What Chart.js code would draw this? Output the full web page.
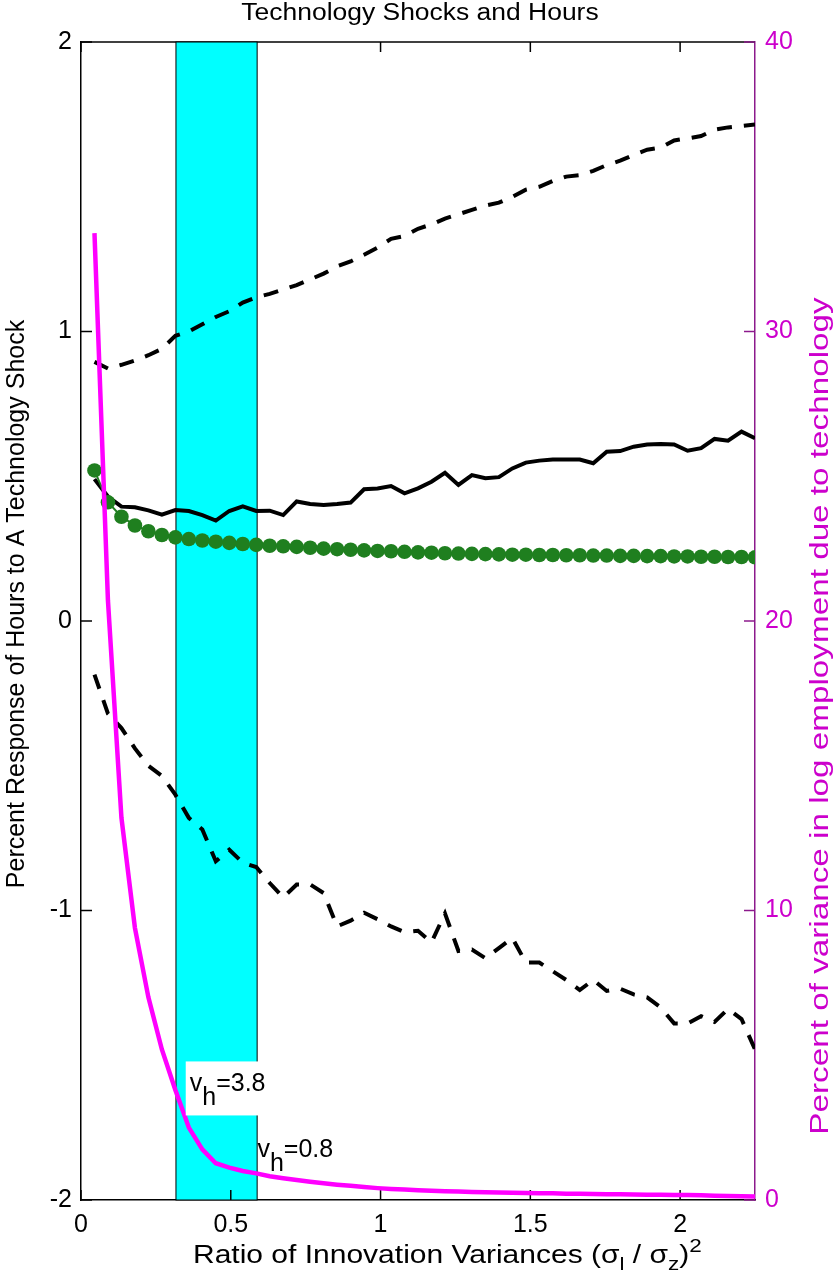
<!DOCTYPE html>
<html>
<head>
<meta charset="utf-8">
<title>Technology Shocks and Hours</title>
<script src="https://cdn.jsdelivr.net/npm/chart.js@4/dist/chart.umd.min.js"></script>
<style>
  html, body { margin: 0; padding: 0; background: #fff; }
  canvas { display: block; }
</style>
</head>
<body>
<canvas id="shocksChart" width="834" height="1280"></canvas>
<script>
// ratio of innovation variances (x positions of every series)
const ratio = [0.045, 0.09, 0.135, 0.18, 0.225, 0.27, 0.315, 0.36, 0.405, 0.45,
  0.495, 0.54, 0.585, 0.63, 0.675, 0.72, 0.765, 0.81, 0.855, 0.9,
  0.945, 0.99, 1.035, 1.08, 1.125, 1.17, 1.215, 1.26, 1.305, 1.35,
  1.395, 1.44, 1.485, 1.53, 1.575, 1.62, 1.665, 1.71, 1.755, 1.8,
  1.845, 1.89, 1.935, 1.98, 2.025, 2.07, 2.115, 2.16, 2.205, 2.25];

// percent response of hours (left axis)
const responseMedian = [0.49, 0.43, 0.395, 0.393, 0.382, 0.367, 0.383, 0.38, 0.366, 0.347,
  0.38, 0.396, 0.38, 0.381, 0.366, 0.413, 0.404, 0.401, 0.404, 0.409,
  0.455, 0.458, 0.466, 0.441, 0.458, 0.481, 0.512, 0.47, 0.504, 0.493,
  0.497, 0.527, 0.547, 0.554, 0.558, 0.558, 0.558, 0.545, 0.585, 0.587,
  0.602, 0.61, 0.611, 0.61, 0.588, 0.597, 0.629, 0.623, 0.654, 0.631];
const responseUpper = [0.895, 0.872, 0.885, 0.9, 0.918, 0.94, 0.985, 1.0, 1.025, 1.05,
  1.07, 1.1, 1.118, 1.13, 1.145, 1.16, 1.18, 1.2, 1.225, 1.242,
  1.265, 1.29, 1.32, 1.33, 1.355, 1.37, 1.39, 1.405, 1.42, 1.435,
  1.445, 1.465, 1.49, 1.5, 1.52, 1.535, 1.54, 1.555, 1.575, 1.59,
  1.61, 1.628, 1.635, 1.66, 1.667, 1.675, 1.697, 1.705, 1.71, 1.715];
const responseLower = [-0.185, -0.32, -0.37, -0.44, -0.5, -0.535, -0.6, -0.68, -0.72, -0.83,
  -0.79, -0.835, -0.85, -0.905, -0.955, -0.91, -0.91, -0.94, -1.055, -1.035,
  -1.008, -1.03, -1.055, -1.075, -1.07, -1.11, -1.01, -1.14, -1.135, -1.165,
  -1.13, -1.095, -1.18, -1.18, -1.21, -1.24, -1.275, -1.24, -1.278, -1.27,
  -1.29, -1.3, -1.335, -1.39, -1.39, -1.365, -1.385, -1.34, -1.375, -1.48];
const modelResponse = [0.52, 0.41, 0.36, 0.33, 0.31, 0.297, 0.289, 0.283, 0.278, 0.274,
  0.27, 0.266, 0.263, 0.26, 0.258, 0.256, 0.253, 0.25, 0.248, 0.246,
  0.244, 0.242, 0.241, 0.239, 0.237, 0.236, 0.234, 0.233, 0.232, 0.231,
  0.23, 0.229, 0.229, 0.228, 0.228, 0.227, 0.227, 0.226, 0.226, 0.225,
  0.225, 0.224, 0.224, 0.223, 0.223, 0.222, 0.222, 0.221, 0.221, 0.22];

// percent of variance due to technology (right axis)
const varianceShare = [33.4, 20.7, 13.2, 9.4, 7.0, 5.2, 3.8, 2.5, 1.75, 1.27,
  1.12, 1.0, 0.92, 0.82, 0.75, 0.69, 0.63, 0.58, 0.53, 0.49,
  0.45, 0.41, 0.38, 0.36, 0.34, 0.32, 0.3, 0.29, 0.28, 0.27,
  0.26, 0.25, 0.24, 0.235, 0.23, 0.22, 0.215, 0.21, 0.2, 0.195,
  0.19, 0.185, 0.18, 0.175, 0.17, 0.16, 0.15, 0.14, 0.13, 0.12];

// shaded region and its labels
const bandRange = [0.317, 0.588];
const vhLabels = ["3.8", "0.8"];
const vhLabelX = [0.363, 0.589];
const vhLabelY = [3.75, 1.5];

const xTicks = [0, 0.5, 1, 1.5, 2];
const yTicks = [-2, -1, 0, 1, 2];
const y2Ticks = [0, 10, 20, 30, 40];

const FONT = "'Liberation Sans', Arial, Helvetica, sans-serif";
const MAGENTA = "#ff00ff";
const PURPLE = "#8c1a8c";
const LABEL_MAGENTA = "#cc00cc";
const GREEN = "#1f7f1f";

const toPoints = (vals) => ratio.map((x, i) => ({ x: x, y: vals[i] }));

function drawLine(ctx, x1, y1, x2, y2) {
  ctx.beginPath();
  ctx.moveTo(x1, y1);
  ctx.lineTo(x2, y2);
  ctx.stroke();
}

// draws text pieces one after another (for sub/superscripts)
function drawRich(ctx, parts, x, y, size, sx) {
  let cx = 0;
  ctx.save();
  ctx.translate(x, y);
  ctx.scale(sx, 1);
  ctx.textAlign = "left";
  ctx.textBaseline = "alphabetic";
  parts.forEach((p) => {
    ctx.font = size * (p.scale || 1) + "px " + FONT;
    ctx.fillText(p.t, cx, p.dy || 0);
    cx += ctx.measureText(p.t).width;
  });
  ctx.restore();
  return cx * sx;
}

function richWidth(ctx, parts, size) {
  let w = 0;
  parts.forEach((p) => {
    ctx.font = size * (p.scale || 1) + "px " + FONT;
    w += ctx.measureText(p.t).width;
  });
  return w;
}

// vertical text reading bottom to top, sl stretches along the text
function drawRotated(ctx, text, cx, cy, size, color, sl) {
  ctx.save();
  ctx.translate(cx, cy);
  ctx.rotate(-Math.PI / 2);
  ctx.scale(sl, 1);
  ctx.font = size + "px " + FONT;
  ctx.fillStyle = color;
  ctx.textAlign = "center";
  ctx.textBaseline = "middle";
  ctx.fillText(text, 0, 0);
  ctx.restore();
}

const decorations = {
  id: "decorations",
  beforeDatasetsDraw(chart) {
    const { ctx, chartArea: a, scales } = chart;
    const x = scales.x, y = scales.y, y2 = scales.y2;
    ctx.save();
    ctx.strokeStyle = "#000";
    ctx.lineWidth = 1.5;
    // top box edge and its ticks (band is painted over them)
    drawLine(ctx, a.left, a.top, a.right, a.top);
    xTicks.forEach((v) => {
      const px = x.getPixelForValue(v);
      drawLine(ctx, px, a.top, px, a.top + 10);
    });

    const b1 = x.getPixelForValue(bandRange[0]);
    const b2 = x.getPixelForValue(bandRange[1]);
    ctx.fillStyle = "#00ffff";
    ctx.fillRect(b1, a.top, b2 - b1, a.bottom - a.top);
    ctx.lineWidth = 1;
    ctx.strokeRect(b1, a.top, b2 - b1, a.bottom - a.top);

    // inward ticks
    ctx.lineWidth = 1.5;
    xTicks.forEach((v) => {
      const px = x.getPixelForValue(v);
      drawLine(ctx, px, a.bottom, px, a.bottom - 10);
    });
    yTicks.forEach((v) => {
      const py = y.getPixelForValue(v);
      drawLine(ctx, a.left, py, a.left + 11, py);
    });
    ctx.strokeStyle = PURPLE;
    y2Ticks.forEach((v) => {
      const py = y2.getPixelForValue(v);
      drawLine(ctx, a.right, py, a.right - 11, py);
    });
    ctx.restore();
  },
  afterDatasetsDraw(chart) {
    const { ctx, scales } = chart;
    const x = scales.x, y2 = scales.y2;
    ctx.save();
    vhLabels.forEach((val, i) => {
      const px = x.getPixelForValue(vhLabelX[i]);
      const py = y2.getPixelForValue(vhLabelY[i]);
      const parts = [{ t: "v" }, { t: "h", dy: 14 }, { t: "=" + val }];
      if (i === 0) {
        const w = richWidth(ctx, parts, 25);
        ctx.fillStyle = "#fff";
        ctx.fillRect(px - 4, py - 30, w + 5, 54);
      }
      ctx.fillStyle = "#000";
      drawRich(ctx, parts, px, py, 25, 1);
    });
    ctx.restore();
  },
  afterDraw(chart) {
    const { ctx } = chart;
    ctx.save();
    ctx.fillStyle = "#000";
    // chart title
    ctx.save();
    ctx.translate(420, 19.5);
    ctx.scale(1.15, 1);
    ctx.font = "23px " + FONT;
    ctx.textAlign = "center";
    ctx.fillText("Technology Shocks and Hours", 0, 0);
    ctx.restore();

    // x axis title with subscripts
    drawRich(ctx, [
      { t: "Ratio of Innovation Variances (\u03c3" },
      { t: "l", dy: 7, scale: 0.75 },
      { t: " / \u03c3" },
      { t: "z", dy: 7, scale: 0.75 },
      { t: ")" },
      { t: "2", dy: -11, scale: 0.75 }
    ], 193, 1263, 25, 1.2);

    drawRotated(ctx, "Percent Response of Hours to A Technology Shock", 17, 604, 25, "#000", 1);
    drawRotated(ctx, "Percent of variance in log employment due to technology", 821, 716, 25, LABEL_MAGENTA, 1.33);
    ctx.restore();
  }
};

const ctx = document.getElementById("shocksChart").getContext("2d");
new Chart(ctx, {
  type: "line",
  data: {
    datasets: [
      {
        label: "Variance share",
        data: toPoints(varianceShare),
        yAxisID: "y2",
        borderColor: MAGENTA,
        borderWidth: 4.5,
        pointRadius: 0,
        tension: 0,
      },
      {
        label: "Model response",
        data: toPoints(modelResponse),
        yAxisID: "y",
        borderColor: GREEN,
        borderWidth: 2,
        pointRadius: 7.3,
        pointBackgroundColor: GREEN,
        pointBorderWidth: 0,
        tension: 0,
      },
      {
        label: "Median response",
        data: toPoints(responseMedian),
        yAxisID: "y",
        borderColor: "#000",
        borderWidth: 4,
        pointRadius: 0,
        tension: 0,
      },
      {
        label: "Upper band",
        data: toPoints(responseUpper),
        yAxisID: "y",
        borderColor: "#000",
        borderWidth: 4,
        borderDash: [15, 12],
        pointRadius: 0,
        tension: 0,
      },
      {
        label: "Lower band",
        data: toPoints(responseLower),
        yAxisID: "y",
        borderColor: "#000",
        borderWidth: 4,
        borderDash: [15, 12],
        pointRadius: 0,
        tension: 0,
      },
    ],
  },
  options: {
    responsive: false,
    animation: false,
    layout: { padding: { top: 42, left: 0, right: 0, bottom: 0 } },
    plugins: {
      legend: { display: false },
      tooltip: { enabled: false },
      title: { display: false },
    },
    scales: {
      x: {
        type: "linear",
        min: 0,
        max: 2.25,
        afterBuildTicks: (s) => { s.ticks = xTicks.map((v) => ({ value: v })); },
        afterFit: (s) => { s.height = 80; },
        grid: { display: false, drawTicks: false },
        border: { display: true, color: "#000", width: 1.5 },
        ticks: {
          color: "#000",
          font: { family: FONT, size: 25 },
          padding: 10,
          maxRotation: 0,
          autoSkip: false,
          callback: (v) => String(v),
        },
      },
      y: {
        type: "linear",
        position: "left",
        min: -2,
        max: 2,
        afterBuildTicks: (s) => { s.ticks = yTicks.map((v) => ({ value: v })); },
        afterFit: (s) => { s.width = 81; },
        grid: { display: false, drawTicks: false },
        border: { display: true, color: "#000", width: 1.5 },
        ticks: {
          color: "#000",
          font: { family: FONT, size: 25 },
          padding: 9,
          callback: (v) => String(v),
        },
      },
      y2: {
        type: "linear",
        position: "right",
        min: 0,
        max: 40,
        afterBuildTicks: (s) => { s.ticks = y2Ticks.map((v) => ({ value: v })); },
        afterFit: (s) => { s.width = 79; },
        grid: { display: false, drawTicks: false },
        border: { display: true, color: PURPLE, width: 1.5 },
        ticks: {
          color: LABEL_MAGENTA,
          font: { family: FONT, size: 25 },
          padding: 10,
          callback: (v) => String(v),
        },
      },
    },
  },
  plugins: [decorations],
});
</script>
</body>
</html>
